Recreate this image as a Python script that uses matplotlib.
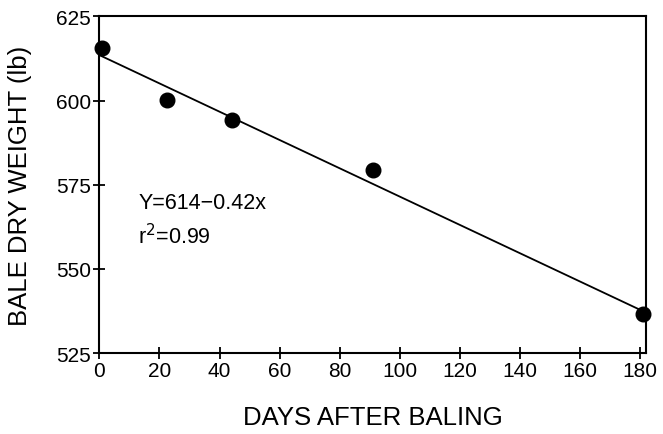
import matplotlib
matplotlib.use("Agg")
import matplotlib.pyplot as plt
import numpy as np

plt.rcParams['font.family'] = ['Liberation Sans', 'DejaVu Sans']

# measured points
days = [1, 22.6, 44, 91, 181]
weight = [615.5, 600.3, 594.1, 579.3, 536.7]

# regression line as drawn
intercept = 613.5
slope = -0.42
line_x = [0, 181]

x_ticks = [0, 20, 40, 60, 80, 100, 120, 140, 160, 180]
y_ticks = [525, 550, 575, 600, 625]

fig = plt.figure(figsize=(6.63, 4.35), dpi=100)
ax = fig.add_axes([0.150, 0.186, 0.824, 0.774])

lx = np.array(line_x)
ax.plot(lx, intercept + slope * lx, color="black", lw=1.3, clip_on=False)
ax.plot(days, weight, "o", color="black", ms=10.5, clip_on=False)

ax.set_xlim(0, 182)
ax.set_ylim(525, 625)
ax.set_xticks(x_ticks)
ax.set_yticks(y_ticks)
ax.tick_params(direction="inout", length=8, width=1.3, labelsize=15, pad=2)

for s in ax.spines.values():
    s.set_linewidth(1.5)

ax.set_xlabel("DAYS AFTER BALING", fontsize=18.5)
ax.set_ylabel("BALE DRY WEIGHT (lb)", fontsize=18.5)
ax.xaxis.set_label_coords(0.5, -0.155)
ax.yaxis.set_label_coords(-0.123, 0.5)

ax.text(13, 569.8, "Y=614\u22120.42x", fontsize=15.5, va="center")
ax.text(13, 560, "r$^2$=0.99", fontsize=15.5, va="center")

fig.savefig("out.png", dpi=100)
